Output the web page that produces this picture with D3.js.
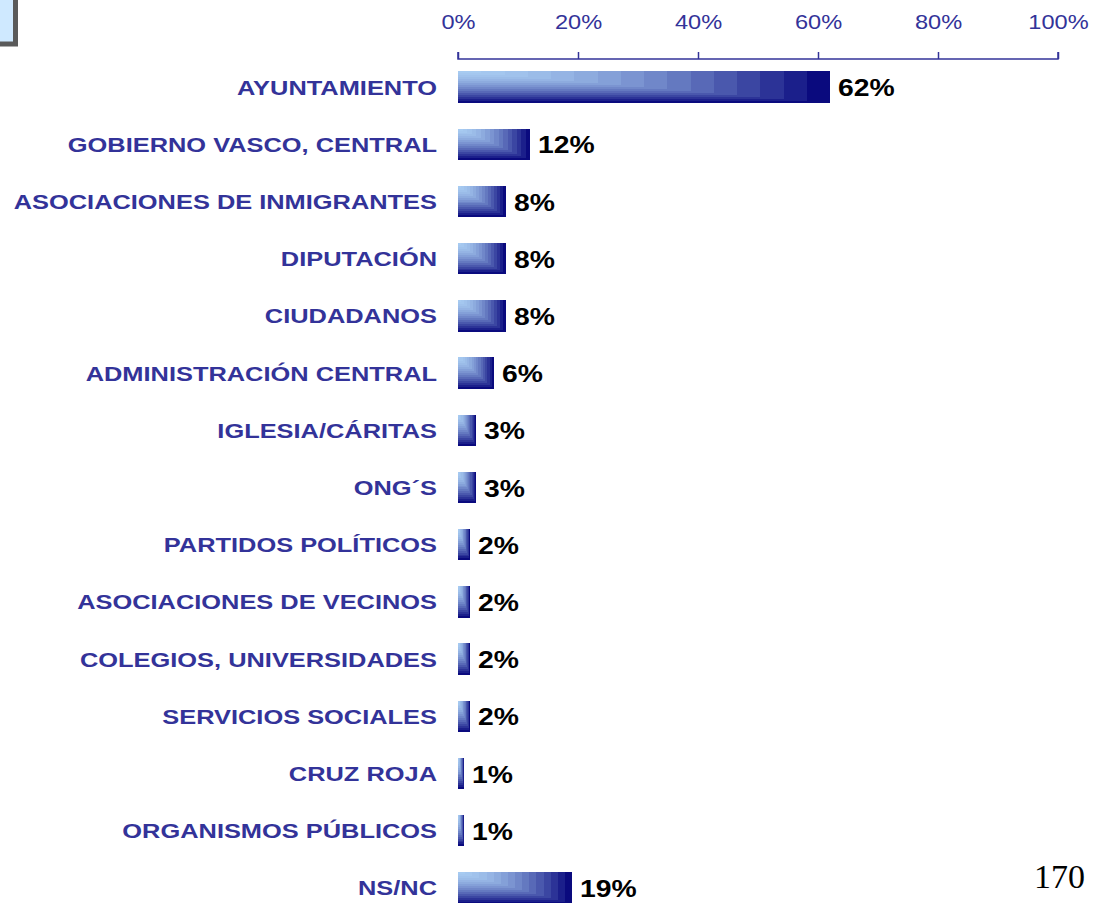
<!DOCTYPE html>
<html>
<head>
<meta charset="utf-8">
<script src="https://cdn.jsdelivr.net/npm/d3@7"></script>
<style>
  body { margin: 0; background: #fff; }
  svg { display: block; }
</style>
</head>
<body>
<script>

// data
var categories = ['AYUNTAMIENTO', 'GOBIERNO VASCO, CENTRAL', 'ASOCIACIONES DE INMIGRANTES',
                  'DIPUTACIÓN', 'CIUDADANOS', 'ADMINISTRACIÓN CENTRAL', 'IGLESIA/CÁRITAS',
                  'ONG´S', 'PARTIDOS POLÍTICOS', 'ASOCIACIONES DE VECINOS',
                  'COLEGIOS, UNIVERSIDADES', 'SERVICIOS SOCIALES', 'CRUZ ROJA',
                  'ORGANISMOS PÚBLICOS', 'NS/NC'];
var values = [62, 12, 8, 8, 8, 6, 3, 3, 2, 2, 2, 2, 1, 1, 19];
var tickValues = [0, 20, 40, 60, 80, 100];
var pageNumber = '170';

// dimensions
var W = 1109, H = 903;
var x0 = 458, x1 = 1058;
var rowTop = 58.5, rowStep = 57.2;
var stretch = 1.18; // text in the slide is a bit wider than normal

var navy = '#333399';
var lightColor = '#a8ccf2';
var darkColor = '#0a0a7e';
var steps = 16;

var svg = d3.select('body').append('svg')
            .attr('width', W)
            .attr('height', H);

// small box in the corner
svg.append('rect')
   .attr('x', -5).attr('y', -5)
   .attr('width', 20.5).attr('height', 49)
   .attr('fill', '#cfe9ff')
   .attr('stroke', '#5a5a5a')
   .attr('stroke-width', 5);

// scales
var xScale = d3.scaleLinear().domain([0, 100]).range([x0, x1]);
var yScale = d3.scaleBand()
               .domain(categories)
               .range([rowTop, rowTop + rowStep * categories.length])
               .paddingInner(0.45)
               .paddingOuter(0.225);

// axis on top, ticks pointing up
var xAxis = d3.axisTop(xScale)
              .tickValues(tickValues)
              .tickSize(7)
              .tickFormat(function(d) { return d + '%'; });

var axisG = svg.append('g')
               .attr('class', 'axis axis--x')
               .attr('transform', 'translate(0,59)')
               .call(xAxis);
axisG.select('.domain')
     .attr('d', 'M' + x0 + ',-7V0H' + x1 + 'V-7')
     .attr('stroke', navy)
     .attr('stroke-width', 1.5);
axisG.selectAll('.tick line')
     .attr('stroke', navy)
     .attr('stroke-width', 1.5);
axisG.selectAll('.tick text').remove();

// tick labels, drawn by hand so they can be stretched
axisG.selectAll('.tick')
     .append('text')
     .attr('transform', 'translate(0,-30) scale(' + stretch + ',1)')
     .attr('text-anchor', 'middle')
     .attr('fill', navy)
     .style('font-family', 'Liberation Sans, Arial, sans-serif')
     .style('font-size', '20px')
     .text(function(d) { return d + '%'; });

// bars: corner gradient made from nested rectangles
var colorAt = d3.interpolateRgb(lightColor, darkColor);
var stepData = d3.range(steps).map(function(i) { return 1 - i / steps; });

var bars = svg.selectAll('.bar')
              .data(values)
              .enter()
              .append('g')
              .attr('class', 'bar')
              .attr('transform', function(d, i) {
                return 'translate(' + xScale(0) + ',' + yScale(categories[i]) + ')';
              });

bars.selectAll('rect')
    .data(function(d) {
      return stepData.map(function(t) { return {v: d, t: t}; });
    })
    .enter()
    .append('rect')
    .attr('x', 0)
    .attr('y', 0)
    .attr('width', function(d) { return (xScale(d.v) - xScale(0)) * d.t; })
    .attr('height', function(d) { return yScale.bandwidth() * d.t; })
    .attr('fill', function(d) { return colorAt(Math.pow(d.t, 1.8)); })
    .attr('shape-rendering', 'crispEdges');

// category labels
svg.selectAll('.cat-label')
   .data(categories)
   .enter()
   .append('text')
   .attr('class', 'cat-label')
   .attr('transform', function(d) {
     return 'translate(437,' + (yScale(d) + yScale.bandwidth() / 2 + 7.5) + ') scale(1.21,1)';
   })
   .attr('text-anchor', 'end')
   .attr('fill', navy)
   .style('font-family', 'Liberation Sans, Arial, sans-serif')
   .style('font-weight', 'bold')
   .style('font-size', '21px')
   .text(function(d) { return d; });

// value labels
svg.selectAll('.val-label')
   .data(values)
   .enter()
   .append('text')
   .attr('class', 'val-label')
   .attr('transform', function(d, i) {
     return 'translate(' + (xScale(d) + 8) + ',' + (yScale(categories[i]) + yScale.bandwidth() / 2 + 9) + ') scale(' + stretch + ',1)';
   })
   .attr('fill', '#000')
   .style('font-family', 'Liberation Sans, Arial, sans-serif')
   .style('font-weight', 'bold')
   .style('font-size', '24px')
   .text(function(d) { return d + '%'; });

// slide page number
svg.append('text')
   .attr('x', 1085)
   .attr('y', 888)
   .attr('text-anchor', 'end')
   .attr('fill', '#000')
   .style('font-family', 'Liberation Serif, Times New Roman, serif')
   .style('font-size', '34px')
   .text(pageNumber);

</script>
</body>
</html>
